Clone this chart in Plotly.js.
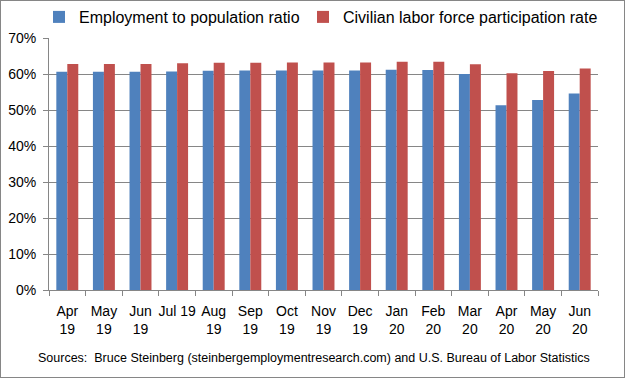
<!DOCTYPE html>
<html><head><meta charset="utf-8">
<script src="https://cdn.plot.ly/plotly-3.0.1.min.js"></script>
<style>
html,body{margin:0;padding:0;background:#fff;}
#frame{width:623px;height:376px;border:1px solid #868686;}
#chart{width:623px;height:376px;}
</style></head>
<body><div id="frame"><div id="chart"></div></div>
<script>
const months = ["Apr<br>19","May<br>19","Jun<br>19","Jul 19","Aug<br>19","Sep<br>19","Oct<br>19","Nov<br>19","Dec<br>19","Jan<br>20","Feb<br>20","Mar<br>20","Apr<br>20","May<br>20","Jun<br>20"];
const employmentRatio = [0.606,0.606,0.606,0.607,0.609,0.610,0.610,0.610,0.610,0.612,0.611,0.600,0.513,0.528,0.546];
const participationRate = [0.628,0.628,0.628,0.630,0.631,0.631,0.632,0.632,0.632,0.634,0.634,0.627,0.602,0.608,0.615];
const seriesNames = ["Employment to population ratio","Civilian labor force participation rate"];
const sourceText = "Sources:  Bruce Steinberg (steinbergemploymentresearch.com) and U.S. Bureau of Labor Statistics";
const FONT = "Liberation Sans, Arial, sans-serif";

const traces = [
  {type:"bar", name:seriesNames[0], x:months, y:employmentRatio, marker:{color:"#4F81BD"}, legend:"legend"},
  {type:"bar", name:seriesNames[1], x:months, y:participationRate, marker:{color:"#C0504D"}, legend:"legend2"}
];
const legendBase = {orientation:"h", xref:"container", xanchor:"left", yref:"container",
  y:1-16/376, yanchor:"middle", font:{family:FONT, size:16, color:"#000"}, itemwidth:30,
  bgcolor:"rgba(0,0,0,0)"};
const layout = {
  width:623, height:376,
  margin:{l:48, r:26, t:37, b:87, autoexpand:false},
  paper_bgcolor:"#fff", plot_bgcolor:"#fff",
  font:{family:FONT, size:14, color:"#000"},
  barmode:"group", bargap:0.4, bargroupgap:0,
  showlegend:true,
  legend:Object.assign({}, legendBase, {x:38/623}),
  legend2:Object.assign({}, legendBase, {x:302/623}),
  xaxis:{type:"category", tickson:"boundaries", ticks:"outside", ticklen:5, tickcolor:"#868686",
         showline:true, linecolor:"#868686", linewidth:1, showgrid:false,
         tickfont:{family:FONT, size:14}, tickangle:0, ticklabelstandoff:8, fixedrange:true},
  yaxis:{range:[0,0.7], dtick:0.1, tickformat:".0%", ticks:"outside", ticklen:5, tickcolor:"#868686",
         showline:true, linecolor:"#868686", linewidth:1, showgrid:true, gridcolor:"#868686", gridwidth:1,
         zeroline:false, tickfont:{family:FONT, size:14}, ticksuffix:" ", fixedrange:true},
  annotations:[{text:sourceText, xref:"paper", yref:"paper", x:0.482, y:-0.27, xanchor:"center", yanchor:"middle",
                showarrow:false, font:{family:FONT, size:12.5, color:"#000"}}]
};
Plotly.newPlot("chart", traces, layout, {displayModeBar:false, staticPlot:true});
</script></body></html>
